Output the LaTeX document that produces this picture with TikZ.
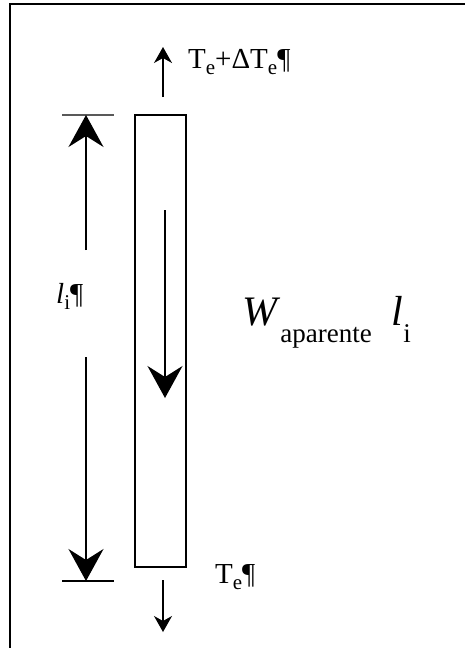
\documentclass[tikz,border=0pt]{standalone}
\usepackage{fontspec}
\usepackage{graphicx}
\setmainfont{Liberation Serif}
\usetikzlibrary{arrows.meta}
\newcommand\lowsub[2]{\raisebox{#1}{#2}}
\begin{document}
\begin{tikzpicture}[x=1pt,y=-1pt,
  frameline/.style={line width=2.2pt},
  thinline/.style={line width=1.4pt},
  bigarrow/.style={line width=1.5pt,-{Stealth[length=32pt,width=35pt,inset=11pt]}},
  smallarrow/.style={line width=1.3pt,-{Stealth[length=16pt,width=18pt,inset=5pt]}},
  lbl/.style={inner sep=0pt,font=\fontsize{29}{29}\selectfont}]
\useasboundingbox (0,0) rectangle (465,648);
\draw[frameline] (10,648) -- (10,4) -- (465,4);
% bar
\node[draw,thinline,minimum width=51pt,minimum height=452pt,inner sep=0pt] (bar) at (160.5,341) {};
% ticks
\coordinate (tkTl) at (62,115); \coordinate (tkTr) at (114,115);
\coordinate (tkBl) at (62,581); \coordinate (tkBr) at (114,581);
\draw[thinline,gray!70!black] (tkTl) -- (tkTr);
\draw[thinline] (tkBl) -- (tkBr);
% dimension arrows
\coordinate (dimTop) at (86,115); \coordinate (dimBot) at (86,581);
\coordinate (dimU) at (86,250); \coordinate (dimL) at (86,357);
\draw[bigarrow] (dimU) -- (dimTop);
\draw[bigarrow] (dimL) -- (dimBot);
\node[lbl,anchor=west] (li) at (56,296) {\textit{l}\lowsub{-6pt}{\fontsize{21}{21}\selectfont i}¶};
% inner arrow
\coordinate (inA) at (165,210); \coordinate (inB) at (165,398);
\draw[bigarrow] (inA) -- (inB);
% top arrow
\coordinate (tA) at (163,97); \coordinate (tB) at (163,47);
\draw[smallarrow] (tA) -- (tB);
\node[lbl,anchor=base west] (top) at (188,68) {T\lowsub{-6pt}{\fontsize{21}{21}\selectfont e}+ΔT\lowsub{-6pt}{\fontsize{21}{21}\selectfont e}¶};
% bottom arrow
\coordinate (bA) at (163,580); \coordinate (bB) at (163,632);
\draw[smallarrow] (bA) -- (bB);
\node[lbl,anchor=base west] (bot) at (215,583) {T\lowsub{-6pt}{\fontsize{21}{21}\selectfont e}¶};
% weight label
\node[inner sep=0pt,anchor=base west] (w) at (242,325) {\fontsize{42}{42}\selectfont\textit{W}\lowsub{-17pt}{\fontsize{27}{27}\selectfont aparente}\hspace{20pt}\textit{l}\lowsub{-17pt}{\fontsize{27}{27}\selectfont i}};
\end{tikzpicture}
\end{document}
